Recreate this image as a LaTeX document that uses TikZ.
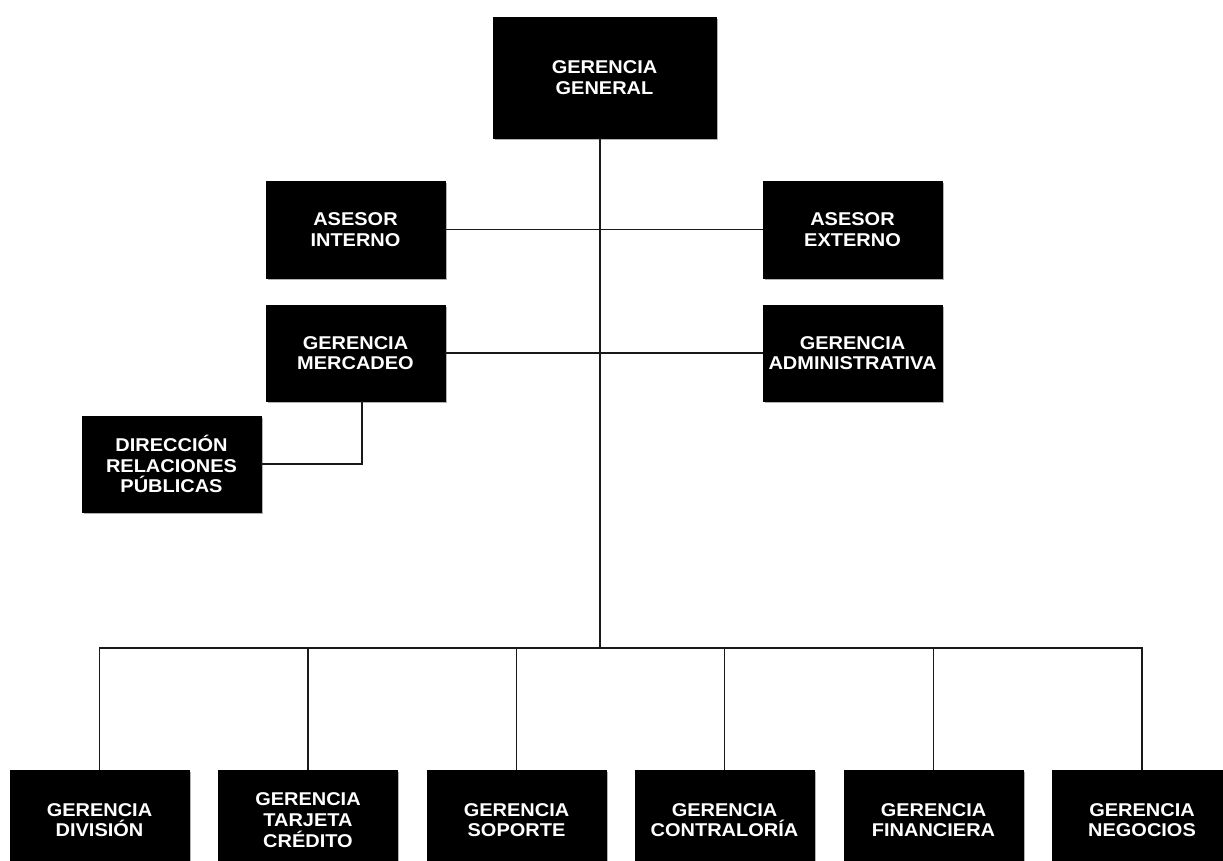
\documentclass[tikz,border=0pt]{standalone}
\usepackage{fontspec}
\newfontfamily\boxfont{Liberation Sans Bold}[FakeStretch=1.08]
\usetikzlibrary{shadows}
\tikzset{
  orgbox/.style={draw=black, fill=black, text=white, inner sep=0pt, align=center,
    minimum width=179pt, minimum height=96pt,
    font=\boxfont\fontsize{18.5}{20.7}\selectfont,
    drop shadow={shadow xshift=1.6pt, shadow yshift=-1.6pt, fill=gray!60, opacity=1}},
  link/.style={draw=black!90, line width=1.8pt}
}
\begin{document}
\begin{tikzpicture}[x=1pt,y=-1pt]
\useasboundingbox (0,0) rectangle (1223,861);
\clip (0,0) rectangle (1223,861);
\node[orgbox, minimum width=223pt, minimum height=121pt] (gg) at (604.5,77.5) {GERENCIA\\GENERAL};
\node[orgbox, minimum height=97pt] (ai) at (355.5,229.5) {ASESOR\\INTERNO};
\node[orgbox, minimum height=97pt] (ae) at (852.5,229.5) {ASESOR\\EXTERNO};
\node[orgbox] (gm) at (355.5,353) {GERENCIA\\MERCADEO};
\node[orgbox] (ga) at (852.5,353) {GERENCIA\\ADMINISTRATIVA};
\node[orgbox] (dr) at (171.5,464) {DIRECCIÓN\\RELACIONES\\PÚBLICAS};
\node[orgbox, minimum height=100pt] (b1) at (99.5,820) {GERENCIA\\DIVISIÓN};
\node[orgbox, minimum height=100pt] (b2) at (308,820) {GERENCIA\\TARJETA\\CRÉDITO};
\node[orgbox, minimum height=100pt] (b3) at (516.5,820) {GERENCIA\\SOPORTE};
\node[orgbox, minimum height=100pt] (b4) at (724.5,820) {GERENCIA\\CONTRALORÍA};
\node[orgbox, minimum height=100pt] (b5) at (933.5,820) {GERENCIA\\FINANCIERA};
\node[orgbox, minimum height=100pt] (b6) at (1142,820) {GERENCIA\\NEGOCIOS};
% connectors
\coordinate (bus) at (600,648);
\coordinate (top) at (600,138);
\coordinate (k) at (362,401);
\draw[link] (top) -- (bus);
\draw[link] (ai.east) -- (ae.west);
\draw[link] (gm.east) -- (ga.west);
\draw[link] (dr.east) -| (k);
\draw[link] (b1.north) -- (b1.north |- bus) -- (b6.north |- bus) -- (b6.north);
\foreach \n in {b2,b3,b4,b5} {\draw[link] (\n.north) -- (\n.north |- bus);}
\end{tikzpicture}
\end{document}
